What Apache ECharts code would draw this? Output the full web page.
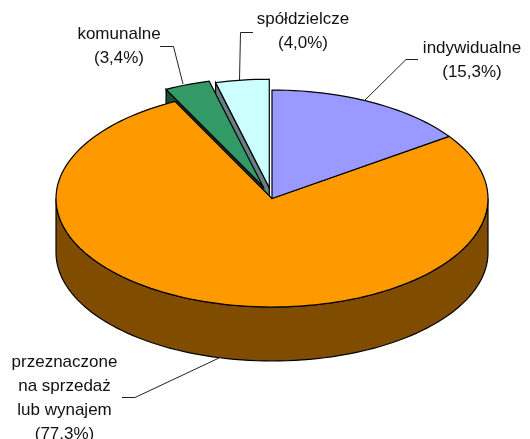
<!DOCTYPE html>
<html>
<head>
<meta charset="utf-8">
<style>
  html, body { margin: 0; padding: 0; background: #fff; }
  #chart { width: 530px; height: 439px; }
</style>
<script src="https://cdn.jsdelivr.net/npm/echarts@6/dist/echarts.min.js"></script>
</head>
<body>
<div id="chart"></div>
<script>
// values in clockwise order from 12 o'clock
const categories = ['indywidualne', 'przeznaczone na sprzedaż lub wynajem', 'komunalne', 'spółdzielcze'];
const shares = [15.3, 77.3, 3.4, 4.0];
const shareLabels = ['(15,3%)', '(77,3%)', '(3,4%)', '(4,0%)'];
const explode = [0, 0, 0.12, 0.1];
// back slices first so the big one covers their walls
const drawOrder = [3, 2, 1, 0];

const topColors = ['#9999ff', '#ff9900', '#339966', '#ccffff'];
const wallColors = ['#4d4d80', '#804d00', '#1a4d33', '#668080'];

const cx = 272, cy = 198.5, rx = 216, ry = 108.5, depth = 54;
const total = shares.reduce((a, b) => a + b, 0);

function pointAt(deg, ox, oy, down) {
  const r = deg * Math.PI / 180;
  return [cx + ox + rx * Math.sin(r), cy + oy - ry * Math.cos(r) + (down || 0)];
}

function arcPoints(from, to, ox, oy, down) {
  const pts = [];
  const n = Math.max(2, Math.ceil((to - from) / 2));
  for (let i = 0; i <= n; i++) {
    pts.push(pointAt(from + (to - from) * i / n, ox, oy, down));
  }
  return pts;
}

function renderSlice(params, api) {
  const index = api.value(0);
  let before = 0;
  for (let i = 0; i < index; i++) before += shares[i];
  const start = before / total * 360;
  const end = (before + api.value(1)) / total * 360;
  const mid = (start + end) / 2 * Math.PI / 180;
  const ox = rx * explode[index] * Math.sin(mid);
  const oy = -ry * explode[index] * Math.cos(mid);
  const apex = [cx + ox, cy + oy];
  const line = { stroke: '#000', lineWidth: 1.2 };
  const children = [];

  // wall on the start edge, only the small raised slices show it
  if (explode[index] > 0) {
    const outer = pointAt(start, ox, oy);
    children.push({
      type: 'polygon',
      shape: { points: [outer, apex, [apex[0], apex[1] + depth], [outer[0], outer[1] + depth]] },
      style: Object.assign({ fill: wallColors[index] }, line)
    });
  }
  // rim, only the front half is visible
  const rimFrom = Math.max(start, 90), rimTo = Math.min(end, 270);
  if (rimTo > rimFrom) {
    children.push({
      type: 'polygon',
      shape: { points: arcPoints(rimFrom, rimTo, ox, oy).concat(arcPoints(rimFrom, rimTo, ox, oy, depth).reverse()) },
      style: Object.assign({ fill: wallColors[index] }, line)
    });
  }
  children.push({
    type: 'polygon',
    shape: { points: [apex].concat(arcPoints(start, end, ox, oy)) },
    style: Object.assign({ fill: topColors[index] }, line)
  });
  return { type: 'group', children: children };
}

function label(x, y, lines) {
  return lines.map((t, i) => ({
    type: 'text',
    x: x, y: y + i * 24,
    style: { text: t, fill: '#111', font: '17px "Liberation Sans", Arial, sans-serif', align: 'center', verticalAlign: 'middle' }
  }));
}

function leader(points) {
  return {
    type: 'polyline', z: 5,
    shape: { points: points },
    style: { stroke: '#222', lineWidth: 1, fill: null }
  };
}

const chart = echarts.init(document.getElementById('chart'), null, { renderer: 'canvas' });
chart.setOption({
  animation: false,
  backgroundColor: '#fff',
  series: [{
    type: 'custom',
    coordinateSystem: 'none',
    silent: true,
    renderItem: renderSlice,
    data: drawOrder.map(i => [i, shares[i]])
  }],
  graphic: [].concat(
    label(472, 48, ['indywidualne', shareLabels[0]]),
    label(303, 19, ['spółdzielcze', shareLabels[3]]),
    label(119, 34, ['komunalne', shareLabels[2]]),
    label(64.5, 362, ['przeznaczone', 'na sprzedaż', 'lub wynajem', shareLabels[1]]),
    [
      leader([[418, 59.5], [406, 59.5], [364, 101]]),
      leader([[253, 32.5], [240.5, 32.5], [239.5, 80]]),
      leader([[160, 46.5], [173.5, 46.5], [183, 84]]),
      leader([[122, 397.5], [135, 397.5], [219, 358]])
    ]
  )
});
</script>
</body>
</html>
